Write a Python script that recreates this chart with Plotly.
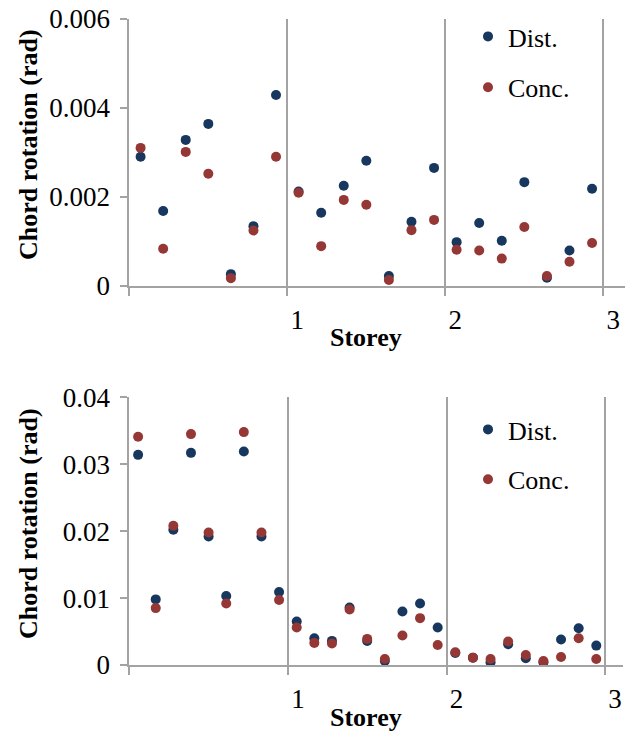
import plotly.graph_objects as go

# ---- data ----
storeys = [1, 2, 3]
x_tick_vals = [0, 1, 2, 3]
x_tick_text = ["", "1", "2", "3"]

top_per_storey = 7
top_dist = [0.00290, 0.00168, 0.00328, 0.00364, 0.00026, 0.00134, 0.00429,
            0.00212, 0.00164, 0.00225, 0.00281, 0.00022, 0.00144, 0.00265,
            0.00098, 0.00141, 0.00101, 0.00233, 0.00018, 0.00079, 0.00218]
top_conc = [0.00310, 0.00083, 0.00301, 0.00252, 0.00017, 0.00124, 0.00290,
            0.00209, 0.00089, 0.00193, 0.00182, 0.00013, 0.00125, 0.00148,
            0.00081, 0.00079, 0.00061, 0.00132, 0.00022, 0.00054, 0.00096]
top_y_ticks = [0, 0.002, 0.004, 0.006]
top_y_text = ["0", "0.002", "0.004", "0.006"]

bot_per_storey = 9
bot_dist = [0.0314, 0.0098, 0.0202, 0.0317, 0.0192, 0.0103, 0.0319, 0.0192, 0.0109,
            0.0065, 0.0040, 0.0036, 0.0086, 0.0036, 0.0006, 0.0080, 0.0092, 0.0056,
            0.0018, 0.0011, 0.0004, 0.0031, 0.0010, 0.0004, 0.0038, 0.0055, 0.0029]
bot_conc = [0.0341, 0.0085, 0.0208, 0.0345, 0.0198, 0.0092, 0.0348, 0.0198, 0.0097,
            0.0056, 0.0033, 0.0032, 0.0083, 0.0039, 0.0009, 0.0044, 0.0070, 0.0030,
            0.0019, 0.0011, 0.0009, 0.0035, 0.0015, 0.0006, 0.0012, 0.0040, 0.0009]
bot_y_ticks = [0, 0.01, 0.02, 0.03, 0.04]
bot_y_text = ["0", "0.01", "0.02", "0.03", "0.04"]

series_names = ["Dist.", "Conc."]
colors = ["#17375E", "#953735"]


def positions(n_per, total):
    return [(i // n_per) + ((i % n_per) + 0.5) / n_per for i in range(total)]


W, H = 631, 733
FONT = "Liberation Serif, Times New Roman, serif"
GRID = "#A3A3A3"

fig = go.Figure()

xt = positions(top_per_storey, len(top_dist))
xb = positions(bot_per_storey, len(bot_dist))

for name, col, ys in zip(series_names, colors, [top_dist, top_conc]):
    fig.add_trace(go.Scatter(x=xt, y=ys, mode="markers", name=name,
                             marker=dict(color=col, size=10),
                             xaxis="x", yaxis="y", legend="legend",
                             legendgroup="t" + name))
for name, col, ys in zip(series_names, colors, [bot_dist, bot_conc]):
    fig.add_trace(go.Scatter(x=xb, y=ys, mode="markers", name=name,
                             marker=dict(color=col, size=10),
                             xaxis="x2", yaxis="y2", legend="legend2",
                             legendgroup="b" + name))


def px_x(p):
    return p / W


def px_y(p):
    return 1 - p / H


xaxis_common = dict(
    tickvals=x_tick_vals, ticktext=x_tick_text, showline=True, linecolor=GRID,
    linewidth=2, ticks="outside", ticklen=8, tickwidth=2, tickcolor=GRID,
    showgrid=True, gridcolor=GRID, gridwidth=2, zeroline=False,
    ticklabelshift=10, ticklabelstandoff=1, automargin=False,
    tickfont=dict(family=FONT, size=27, color="black"),
)
yaxis_common = dict(
    showline=True, linecolor=GRID, linewidth=2, ticks="outside", ticklen=7,
    tickwidth=2, tickcolor=GRID, showgrid=False, zeroline=False,
    ticklabelstandoff=5, automargin=False,
    tickfont=dict(family=FONT, size=27, color="black"),
)

fig.update_layout(
    template="none",
    width=W, height=H,
    margin=dict(l=0, r=0, t=0, b=0, autoexpand=False),
    paper_bgcolor="white", plot_bgcolor="white",
    font=dict(family=FONT, size=26, color="black"),
    xaxis=dict(domain=[px_x(129.3), px_x(625)], range=[0, 3.137],
               anchor="y", **xaxis_common),
    yaxis=dict(domain=[px_y(285.7), px_y(19)], range=[0, 0.006],
               tickvals=top_y_ticks, ticktext=top_y_text, anchor="x",
               **yaxis_common),
    xaxis2=dict(domain=[px_x(129.3), px_x(622.7)], range=[0, 3.111],
                anchor="y2", **xaxis_common),
    yaxis2=dict(domain=[px_y(665), px_y(397.3)], range=[0, 0.04],
                tickvals=bot_y_ticks, ticktext=bot_y_text, anchor="x2",
                **yaxis_common),
    legend=dict(x=px_x(468), y=px_y(13), xanchor="left", yanchor="top",
                font=dict(family=FONT, size=26), bgcolor="rgba(0,0,0,0)",
                tracegroupgap=14, traceorder="grouped"),
    legend2=dict(x=px_x(468), y=px_y(406), xanchor="left", yanchor="top",
                 font=dict(family=FONT, size=26), bgcolor="rgba(0,0,0,0)",
                 tracegroupgap=13, traceorder="grouped"),
    showlegend=True,
)

ann_font = dict(family=FONT, size=26, color="black")
annotations = [
    dict(text="<b>Storey</b>", x=px_x(366), y=px_y(338), xref="paper", yref="paper",
         showarrow=False, font=ann_font, xanchor="center", yanchor="middle"),
    dict(text="<b>Storey</b>", x=px_x(366), y=px_y(717), xref="paper", yref="paper",
         showarrow=False, font=ann_font, xanchor="center", yanchor="middle"),
    dict(text="<b>Chord rotation (rad)</b>", x=px_x(28), y=px_y(145), xref="paper",
         yref="paper", showarrow=False, font=ann_font, textangle=-90,
         xanchor="center", yanchor="middle"),
    dict(text="<b>Chord rotation (rad)</b>", x=px_x(28), y=px_y(524), xref="paper",
         yref="paper", showarrow=False, font=ann_font, textangle=-90,
         xanchor="center", yanchor="middle"),
]
fig.update_layout(annotations=annotations)

fig.write_html(
    "out.html",
    config={"displayModeBar": False},
    post_script="document.body.style.margin='0';document.body.style.overflow='hidden';",
)
